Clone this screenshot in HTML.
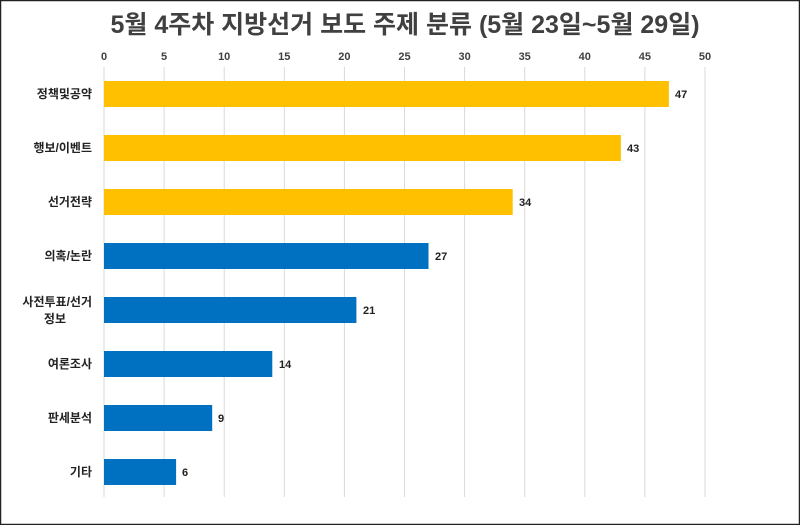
<!DOCTYPE html>
<html><head><meta charset="utf-8"><style>
body{margin:0;background:#fff}
</style></head><body>
<svg width="800" height="525" xmlns="http://www.w3.org/2000/svg" font-family="'Liberation Sans','Noto Sans CJK KR',sans-serif">
<rect x="0.5" y="0.5" width="799" height="524" fill="#fff" stroke="#222" stroke-width="1.5"/>
<text x="405" y="33" text-anchor="middle" font-size="25" font-weight="bold" fill="#404040">5월 4주차 지방선거 보도 주제 분류 (5월 23일~5월 29일)</text>
<g stroke="#d9d9d9" stroke-width="1">
<line x1="104" y1="67" x2="104" y2="497"/><line x1="164.1" y1="67" x2="164.1" y2="497"/><line x1="224.2" y1="67" x2="224.2" y2="497"/><line x1="284.3" y1="67" x2="284.3" y2="497"/><line x1="344.4" y1="67" x2="344.4" y2="497"/><line x1="404.5" y1="67" x2="404.5" y2="497"/><line x1="464.6" y1="67" x2="464.6" y2="497"/><line x1="524.7" y1="67" x2="524.7" y2="497"/><line x1="584.8" y1="67" x2="584.8" y2="497"/><line x1="644.9" y1="67" x2="644.9" y2="497"/><line x1="705" y1="67" x2="705" y2="497"/>
</g>
<g font-size="11" font-weight="bold" fill="#404040" text-anchor="middle">
<text x="104" y="60">0</text><text x="164.1" y="60">5</text><text x="224.2" y="60">10</text><text x="284.3" y="60">15</text><text x="344.4" y="60">20</text><text x="404.5" y="60">25</text><text x="464.6" y="60">30</text><text x="524.7" y="60">35</text><text x="584.8" y="60">40</text><text x="644.9" y="60">45</text><text x="705" y="60">50</text>
</g>
<g>
<rect x="104" y="81" width="564.9" height="26" fill="#FFC000"/>
<rect x="104" y="135" width="516.9" height="26" fill="#FFC000"/>
<rect x="104" y="189" width="408.7" height="26" fill="#FFC000"/>
<rect x="104" y="243" width="324.5" height="26" fill="#0070C0"/>
<rect x="104" y="297" width="252.4" height="26" fill="#0070C0"/>
<rect x="104" y="351" width="168.3" height="26" fill="#0070C0"/>
<rect x="104" y="405" width="108.2" height="26" fill="#0070C0"/>
<rect x="104" y="459" width="72.1" height="26" fill="#0070C0"/>
</g>
<g font-size="11" font-weight="bold" fill="#222">
<text x="675" y="98">47</text><text x="627" y="152">43</text><text x="519" y="206">34</text><text x="435" y="260">27</text><text x="363" y="314">21</text><text x="279" y="368">14</text><text x="218" y="422">9</text><text x="182" y="476">6</text>
</g>
<g font-size="12" font-weight="bold" fill="#222" text-anchor="end">
<text x="92" y="98">정책및공약</text>
<text x="92" y="152">행보/이벤트</text>
<text x="92" y="206">선거전략</text>
<text x="92" y="260">의혹/논란</text>
<text x="92" y="306">사전투표/선거</text>
<text x="66" y="323">정보</text>
<text x="92" y="368">여론조사</text>
<text x="92" y="422">판세분석</text>
<text x="92" y="476">기타</text>
</g>
</svg>
</body></html>
